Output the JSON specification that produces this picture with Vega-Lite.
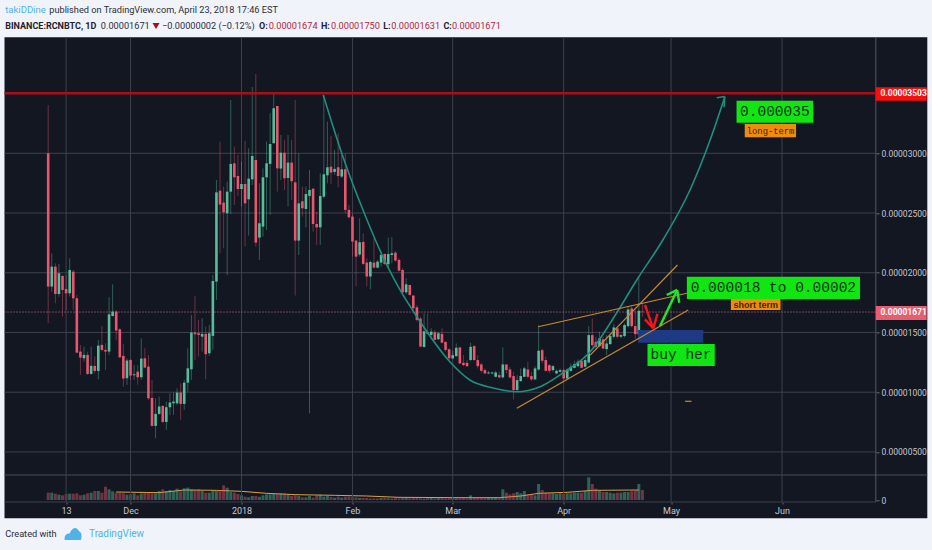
{"$schema":"https://vega.github.io/schema/vega-lite/v6.json","autosize":{"type":"none"},"width":922.8,"height":481,"padding":{"left":4.5,"top":37.3,"right":4.7,"bottom":31.7},"background":"#f0f3fa","view":{"fill":"#131722","stroke":null},"config":{"scale":{"continuousPadding":0}},
"datasets":{"candles":[
{"d":"2017-11-08","o":3.0e-5,"h":3.404e-5,"l":1.577e-5,"c":1.884e-5,"v":22,"s":"down"},
{"d":"2017-11-09","o":1.884e-5,"h":2.163e-5,"l":1.842e-5,"c":2.051e-5,"v":22,"s":"up"},
{"d":"2017-11-10","o":2.051e-5,"h":2.079e-5,"l":1.744e-5,"c":1.822e-5,"v":19,"s":"down"},
{"d":"2017-11-11","o":1.822e-5,"h":2.074e-5,"l":1.8e-5,"c":1.996e-5,"v":16,"s":"up"},
{"d":"2017-11-12","o":1.973e-5,"h":1.982e-5,"l":1.633e-5,"c":1.856e-5,"v":14,"s":"down"},
{"d":"2017-11-13","o":1.864e-5,"h":1.982e-5,"l":1.689e-5,"c":1.828e-5,"v":18,"s":"down"},
{"d":"2017-11-14","o":1.828e-5,"h":2.121e-5,"l":1.8e-5,"c":2.023e-5,"v":19,"s":"up"},
{"d":"2017-11-15","o":2.009e-5,"h":2.023e-5,"l":1.689e-5,"c":1.786e-5,"v":19,"s":"down"},
{"d":"2017-11-16","o":1.786e-5,"h":1.814e-5,"l":1.326e-5,"c":1.331e-5,"v":20,"s":"down"},
{"d":"2017-11-17","o":1.34e-5,"h":1.396e-5,"l":1.145e-5,"c":1.29e-5,"v":14,"s":"down"},
{"d":"2017-11-18","o":1.284e-5,"h":1.382e-5,"l":1.256e-5,"c":1.312e-5,"v":16,"s":"up"},
{"d":"2017-11-19","o":1.312e-5,"h":1.34e-5,"l":1.145e-5,"c":1.153e-5,"v":20,"s":"down"},
{"d":"2017-11-20","o":1.153e-5,"h":1.382e-5,"l":1.145e-5,"c":1.22e-5,"v":22,"s":"up"},
{"d":"2017-11-21","o":1.22e-5,"h":1.298e-5,"l":1.159e-5,"c":1.178e-5,"v":27,"s":"down"},
{"d":"2017-11-22","o":1.178e-5,"h":1.438e-5,"l":1.108e-5,"c":1.39e-5,"v":27,"s":"up"},
{"d":"2017-11-23","o":1.396e-5,"h":1.555e-5,"l":1.34e-5,"c":1.354e-5,"v":22,"s":"down"},
{"d":"2017-11-24","o":1.354e-5,"h":1.41e-5,"l":1.186e-5,"c":1.34e-5,"v":40,"s":"down"},
{"d":"2017-11-25","o":1.34e-5,"h":1.795e-5,"l":1.312e-5,"c":1.652e-5,"v":32,"s":"up"},
{"d":"2017-11-26","o":1.638e-5,"h":1.903e-5,"l":1.633e-5,"c":1.675e-5,"v":26,"s":"up"},
{"d":"2017-11-27","o":1.675e-5,"h":1.689e-5,"l":1.438e-5,"c":1.516e-5,"v":22,"s":"down"},
{"d":"2017-11-28","o":1.527e-5,"h":1.535e-5,"l":1.284e-5,"c":1.292e-5,"v":22,"s":"down"},
{"d":"2017-11-29","o":1.304e-5,"h":1.404e-5,"l":1.047e-5,"c":1.114e-5,"v":20,"s":"down"},
{"d":"2017-11-30","o":1.117e-5,"h":1.284e-5,"l":1.061e-5,"c":1.265e-5,"v":16,"s":"up"},
{"d":"2017-12-01","o":1.27e-5,"h":1.276e-5,"l":1.103e-5,"c":1.139e-5,"v":17,"s":"down"},
{"d":"2017-12-02","o":1.142e-5,"h":1.228e-5,"l":1.103e-5,"c":1.15e-5,"v":20,"s":"up"},
{"d":"2017-12-03","o":1.172e-5,"h":1.228e-5,"l":1.061e-5,"c":1.125e-5,"v":14,"s":"down"},
{"d":"2017-12-04","o":1.125e-5,"h":1.451e-5,"l":1.103e-5,"c":1.281e-5,"v":20,"s":"up"},
{"d":"2017-12-05","o":1.284e-5,"h":1.368e-5,"l":1.2e-5,"c":1.206e-5,"v":22,"s":"down"},
{"d":"2017-12-06","o":1.214e-5,"h":1.312e-5,"l":0.935e-5,"c":0.949e-5,"v":22,"s":"down"},
{"d":"2017-12-07","o":0.952e-5,"h":1.103e-5,"l":0.712e-5,"c":0.718e-5,"v":20,"s":"down"},
{"d":"2017-12-08","o":0.718e-5,"h":0.949e-5,"l":0.614e-5,"c":0.818e-5,"v":20,"s":"up"},
{"d":"2017-12-09","o":0.818e-5,"h":0.963e-5,"l":0.81e-5,"c":0.88e-5,"v":27,"s":"up"},
{"d":"2017-12-10","o":0.885e-5,"h":0.893e-5,"l":0.74e-5,"c":0.751e-5,"v":32,"s":"down"},
{"d":"2017-12-11","o":0.751e-5,"h":0.921e-5,"l":0.684e-5,"c":0.874e-5,"v":27,"s":"up"},
{"d":"2017-12-12","o":0.874e-5,"h":0.991e-5,"l":0.81e-5,"c":0.913e-5,"v":30,"s":"up"},
{"d":"2017-12-13","o":0.907e-5,"h":0.997e-5,"l":0.81e-5,"c":0.921e-5,"v":27,"s":"up"},
{"d":"2017-12-14","o":0.907e-5,"h":1.033e-5,"l":0.893e-5,"c":0.997e-5,"v":34,"s":"up"},
{"d":"2017-12-15","o":0.997e-5,"h":1.075e-5,"l":0.768e-5,"c":0.902e-5,"v":26,"s":"down"},
{"d":"2017-12-16","o":0.902e-5,"h":1.103e-5,"l":0.852e-5,"c":1.08e-5,"v":35,"s":"up"},
{"d":"2017-12-17","o":1.08e-5,"h":1.368e-5,"l":1.005e-5,"c":1.2e-5,"v":37,"s":"up"},
{"d":"2017-12-18","o":1.192e-5,"h":1.647e-5,"l":1.103e-5,"c":1.499e-5,"v":32,"s":"up"},
{"d":"2017-12-19","o":1.499e-5,"h":1.806e-5,"l":1.27e-5,"c":1.485e-5,"v":30,"s":"down"},
{"d":"2017-12-20","o":1.493e-5,"h":1.605e-5,"l":1.298e-5,"c":1.479e-5,"v":32,"s":"down"},
{"d":"2017-12-21","o":1.465e-5,"h":1.619e-5,"l":1.34e-5,"c":1.488e-5,"v":27,"s":"up"},
{"d":"2017-12-22","o":1.488e-5,"h":1.549e-5,"l":1.108e-5,"c":1.318e-5,"v":22,"s":"down"},
{"d":"2017-12-23","o":1.326e-5,"h":1.563e-5,"l":1.306e-5,"c":1.493e-5,"v":22,"s":"up"},
{"d":"2017-12-24","o":1.471e-5,"h":1.982e-5,"l":1.354e-5,"c":1.931e-5,"v":27,"s":"up"},
{"d":"2017-12-25","o":1.926e-5,"h":2.777e-5,"l":1.772e-5,"c":2.673e-5,"v":27,"s":"up"},
{"d":"2017-12-26","o":2.687e-5,"h":3.098e-5,"l":2.163e-5,"c":2.57e-5,"v":30,"s":"down"},
{"d":"2017-12-27","o":2.587e-5,"h":2.721e-5,"l":2.205e-5,"c":2.506e-5,"v":44,"s":"down"},
{"d":"2017-12-28","o":2.498e-5,"h":2.763e-5,"l":1.982e-5,"c":2.679e-5,"v":37,"s":"up"},
{"d":"2017-12-29","o":2.679e-5,"h":3.446e-5,"l":2.492e-5,"c":2.911e-5,"v":24,"s":"up"},
{"d":"2017-12-30","o":2.916e-5,"h":3.056e-5,"l":2.567e-5,"c":2.799e-5,"v":22,"s":"down"},
{"d":"2017-12-31","o":2.81e-5,"h":2.986e-5,"l":2.643e-5,"c":2.701e-5,"v":18,"s":"down"},
{"d":"2018-01-01","o":2.701e-5,"h":2.93e-5,"l":2.554e-5,"c":2.743e-5,"v":14,"s":"up"},
{"d":"2018-01-02","o":2.743e-5,"h":3.106e-5,"l":2.219e-5,"c":2.581e-5,"v":10,"s":"down"},
{"d":"2018-01-03","o":2.615e-5,"h":3.042e-5,"l":2.311e-5,"c":2.788e-5,"v":8,"s":"up"},
{"d":"2018-01-04","o":2.782e-5,"h":3.555e-5,"l":2.735e-5,"c":2.978e-5,"v":12,"s":"up"},
{"d":"2018-01-05","o":2.944e-5,"h":3.664e-5,"l":2.219e-5,"c":2.252e-5,"v":12,"s":"down"},
{"d":"2018-01-06","o":2.294e-5,"h":2.749e-5,"l":2.107e-5,"c":2.414e-5,"v":10,"s":"up"},
{"d":"2018-01-07","o":2.386e-5,"h":2.874e-5,"l":2.302e-5,"c":2.799e-5,"v":14,"s":"up"},
{"d":"2018-01-08","o":2.799e-5,"h":3.098e-5,"l":2.358e-5,"c":2.916e-5,"v":17,"s":"up"},
{"d":"2018-01-09","o":2.911e-5,"h":3.335e-5,"l":2.484e-5,"c":3.078e-5,"v":17,"s":"up"},
{"d":"2018-01-10","o":3.084e-5,"h":3.508e-5,"l":3.084e-5,"c":3.377e-5,"v":20,"s":"up"},
{"d":"2018-01-11","o":3.396e-5,"h":3.396e-5,"l":2.679e-5,"c":2.874e-5,"v":18,"s":"down"},
{"d":"2018-01-12","o":2.872e-5,"h":3.153e-5,"l":2.777e-5,"c":3.005e-5,"v":20,"s":"up"},
{"d":"2018-01-13","o":3.005e-5,"h":3.112e-5,"l":2.693e-5,"c":2.791e-5,"v":20,"s":"down"},
{"d":"2018-01-14","o":2.793e-5,"h":3.153e-5,"l":2.554e-5,"c":2.922e-5,"v":16,"s":"up"},
{"d":"2018-01-15","o":2.922e-5,"h":3.112e-5,"l":2.609e-5,"c":2.766e-5,"v":12,"s":"down"},
{"d":"2018-01-16","o":2.757e-5,"h":3.446e-5,"l":1.809e-5,"c":2.269e-5,"v":14,"s":"down"},
{"d":"2018-01-17","o":2.269e-5,"h":3.0e-5,"l":2.149e-5,"c":2.581e-5,"v":12,"s":"up"},
{"d":"2018-01-18","o":2.598e-5,"h":2.721e-5,"l":2.47e-5,"c":2.54e-5,"v":8,"s":"down"},
{"d":"2018-01-19","o":2.534e-5,"h":2.721e-5,"l":2.38e-5,"c":2.659e-5,"v":8,"s":"up"},
{"d":"2018-01-20","o":2.643e-5,"h":2.86e-5,"l":0.824e-5,"c":2.693e-5,"v":12,"s":"up"},
{"d":"2018-01-21","o":2.704e-5,"h":2.707e-5,"l":2.344e-5,"c":2.408e-5,"v":7,"s":"down"},
{"d":"2018-01-22","o":2.408e-5,"h":2.512e-5,"l":2.233e-5,"c":2.38e-5,"v":14,"s":"down"},
{"d":"2018-01-23","o":2.38e-5,"h":2.833e-5,"l":2.233e-5,"c":2.643e-5,"v":16,"s":"up"},
{"d":"2018-01-24","o":2.637e-5,"h":3.488e-5,"l":2.623e-5,"c":2.824e-5,"v":10,"s":"up"},
{"d":"2018-01-25","o":2.816e-5,"h":3.265e-5,"l":2.749e-5,"c":2.883e-5,"v":12,"s":"up"},
{"d":"2018-01-26","o":2.888e-5,"h":3.145e-5,"l":2.743e-5,"c":2.838e-5,"v":9,"s":"down"},
{"d":"2018-01-27","o":2.844e-5,"h":3.028e-5,"l":2.819e-5,"c":2.869e-5,"v":7,"s":"up"},
{"d":"2018-01-28","o":2.883e-5,"h":3.167e-5,"l":2.715e-5,"c":2.81e-5,"v":10,"s":"down"},
{"d":"2018-01-29","o":2.805e-5,"h":2.986e-5,"l":2.791e-5,"c":2.866e-5,"v":7,"s":"up"},
{"d":"2018-01-30","o":2.866e-5,"h":3.0e-5,"l":2.498e-5,"c":2.526e-5,"v":10,"s":"down"},
{"d":"2018-01-31","o":2.526e-5,"h":2.567e-5,"l":2.456e-5,"c":2.464e-5,"v":10,"s":"down"},
{"d":"2018-02-01","o":2.47e-5,"h":2.498e-5,"l":2.135e-5,"c":2.261e-5,"v":8,"s":"down"},
{"d":"2018-02-02","o":2.269e-5,"h":2.275e-5,"l":1.884e-5,"c":2.135e-5,"v":8,"s":"down"},
{"d":"2018-02-03","o":2.152e-5,"h":2.456e-5,"l":2.135e-5,"c":2.255e-5,"v":6,"s":"up"},
{"d":"2018-02-04","o":2.258e-5,"h":2.33e-5,"l":2.065e-5,"c":2.074e-5,"v":6,"s":"down"},
{"d":"2018-02-05","o":2.085e-5,"h":2.121e-5,"l":1.884e-5,"c":1.968e-5,"v":6,"s":"down"},
{"d":"2018-02-06","o":1.968e-5,"h":2.102e-5,"l":1.862e-5,"c":2.09e-5,"v":4,"s":"up"},
{"d":"2018-02-07","o":2.085e-5,"h":2.283e-5,"l":2.037e-5,"c":2.043e-5,"v":5,"s":"down"},
{"d":"2018-02-08","o":2.043e-5,"h":2.107e-5,"l":2.037e-5,"c":2.093e-5,"v":4,"s":"up"},
{"d":"2018-02-09","o":2.085e-5,"h":2.177e-5,"l":2.051e-5,"c":2.149e-5,"v":6,"s":"up"},
{"d":"2018-02-10","o":2.157e-5,"h":2.163e-5,"l":2.065e-5,"c":2.074e-5,"v":7,"s":"down"},
{"d":"2018-02-11","o":2.071e-5,"h":2.294e-5,"l":2.037e-5,"c":2.157e-5,"v":5,"s":"up"},
{"d":"2018-02-12","o":2.149e-5,"h":2.297e-5,"l":2.079e-5,"c":2.163e-5,"v":4,"s":"up"},
{"d":"2018-02-13","o":2.168e-5,"h":2.182e-5,"l":2.093e-5,"c":2.102e-5,"v":6,"s":"down"},
{"d":"2018-02-14","o":2.107e-5,"h":2.121e-5,"l":2.009e-5,"c":2.018e-5,"v":5,"s":"down"},
{"d":"2018-02-15","o":2.023e-5,"h":2.037e-5,"l":1.828e-5,"c":1.836e-5,"v":7,"s":"down"},
{"d":"2018-02-16","o":1.836e-5,"h":1.954e-5,"l":1.822e-5,"c":1.903e-5,"v":6,"s":"up"},
{"d":"2018-02-17","o":1.898e-5,"h":1.898e-5,"l":1.806e-5,"c":1.814e-5,"v":5,"s":"down"},
{"d":"2018-02-18","o":1.809e-5,"h":1.814e-5,"l":1.689e-5,"c":1.703e-5,"v":7,"s":"down"},
{"d":"2018-02-19","o":1.711e-5,"h":1.73e-5,"l":1.591e-5,"c":1.605e-5,"v":6,"s":"down"},
{"d":"2018-02-20","o":1.616e-5,"h":1.633e-5,"l":1.376e-5,"c":1.382e-5,"v":5,"s":"down"},
{"d":"2018-02-21","o":1.379e-5,"h":1.661e-5,"l":1.373e-5,"c":1.51e-5,"v":4,"s":"up"},
{"d":"2018-02-22","o":1.502e-5,"h":1.661e-5,"l":1.479e-5,"c":1.488e-5,"v":6,"s":"down"},
{"d":"2018-02-23","o":1.479e-5,"h":1.535e-5,"l":1.438e-5,"c":1.507e-5,"v":7,"s":"up"},
{"d":"2018-02-24","o":1.502e-5,"h":1.521e-5,"l":1.432e-5,"c":1.438e-5,"v":5,"s":"down"},
{"d":"2018-02-25","o":1.443e-5,"h":1.507e-5,"l":1.438e-5,"c":1.493e-5,"v":6,"s":"up"},
{"d":"2018-02-26","o":1.488e-5,"h":1.535e-5,"l":1.41e-5,"c":1.415e-5,"v":6,"s":"down"},
{"d":"2018-02-27","o":1.421e-5,"h":1.424e-5,"l":1.34e-5,"c":1.354e-5,"v":5,"s":"down"},
{"d":"2018-02-28","o":1.359e-5,"h":1.368e-5,"l":1.27e-5,"c":1.284e-5,"v":7,"s":"down"},
{"d":"2018-03-01","o":1.283e-5,"h":1.347e-5,"l":1.274e-5,"c":1.31e-5,"v":6,"s":"up"},
{"d":"2018-03-02","o":1.302e-5,"h":1.408e-5,"l":1.296e-5,"c":1.372e-5,"v":5,"s":"up"},
{"d":"2018-03-03","o":1.375e-5,"h":1.38e-5,"l":1.235e-5,"c":1.241e-5,"v":7,"s":"down"},
{"d":"2018-03-04","o":1.246e-5,"h":1.31e-5,"l":1.218e-5,"c":1.227e-5,"v":6,"s":"down"},
{"d":"2018-03-05","o":1.246e-5,"h":1.269e-5,"l":1.213e-5,"c":1.218e-5,"v":5,"s":"down"},
{"d":"2018-03-06","o":1.269e-5,"h":1.414e-5,"l":1.263e-5,"c":1.38e-5,"v":14,"s":"up"},
{"d":"2018-03-07","o":1.386e-5,"h":1.394e-5,"l":1.263e-5,"c":1.269e-5,"v":8,"s":"down"},
{"d":"2018-03-08","o":1.269e-5,"h":1.31e-5,"l":1.199e-5,"c":1.218e-5,"v":8,"s":"down"},
{"d":"2018-03-09","o":1.232e-5,"h":1.246e-5,"l":1.163e-5,"c":1.179e-5,"v":7,"s":"down"},
{"d":"2018-03-10","o":1.185e-5,"h":1.199e-5,"l":1.151e-5,"c":1.157e-5,"v":7,"s":"down"},
{"d":"2018-03-11","o":1.157e-5,"h":1.177e-5,"l":1.151e-5,"c":1.165e-5,"v":6,"s":"up"},
{"d":"2018-03-12","o":1.157e-5,"h":1.171e-5,"l":1.151e-5,"c":1.165e-5,"v":7,"s":"up"},
{"d":"2018-03-13","o":1.129e-5,"h":1.179e-5,"l":1.124e-5,"c":1.165e-5,"v":8,"s":"up"},
{"d":"2018-03-14","o":1.143e-5,"h":1.171e-5,"l":1.115e-5,"c":1.124e-5,"v":9,"s":"down"},
{"d":"2018-03-15","o":1.124e-5,"h":1.375e-5,"l":1.115e-5,"c":1.232e-5,"v":32,"s":"up"},
{"d":"2018-03-16","o":1.232e-5,"h":1.235e-5,"l":1.157e-5,"c":1.185e-5,"v":22,"s":"down"},
{"d":"2018-03-17","o":1.19e-5,"h":1.213e-5,"l":1.115e-5,"c":1.124e-5,"v":17,"s":"down"},
{"d":"2018-03-18","o":1.135e-5,"h":1.171e-5,"l":0.939e-5,"c":1.018e-5,"v":20,"s":"down"},
{"d":"2018-03-19","o":1.018e-5,"h":1.143e-5,"l":1.012e-5,"c":1.101e-5,"v":24,"s":"up"},
{"d":"2018-03-20","o":1.093e-5,"h":1.199e-5,"l":1.087e-5,"c":1.135e-5,"v":20,"s":"up"},
{"d":"2018-03-21","o":1.129e-5,"h":1.213e-5,"l":1.124e-5,"c":1.199e-5,"v":27,"s":"up"},
{"d":"2018-03-22","o":1.19e-5,"h":1.255e-5,"l":1.115e-5,"c":1.129e-5,"v":16,"s":"down"},
{"d":"2018-03-23","o":1.135e-5,"h":1.171e-5,"l":1.096e-5,"c":1.107e-5,"v":16,"s":"down"},
{"d":"2018-03-24","o":1.107e-5,"h":1.218e-5,"l":1.101e-5,"c":1.199e-5,"v":14,"s":"up"},
{"d":"2018-03-25","o":1.19e-5,"h":1.562e-5,"l":1.179e-5,"c":1.347e-5,"v":48,"s":"up"},
{"d":"2018-03-26","o":1.352e-5,"h":1.366e-5,"l":1.241e-5,"c":1.263e-5,"v":30,"s":"down"},
{"d":"2018-03-27","o":1.269e-5,"h":1.296e-5,"l":1.171e-5,"c":1.179e-5,"v":22,"s":"down"},
{"d":"2018-03-28","o":1.227e-5,"h":1.235e-5,"l":1.157e-5,"c":1.179e-5,"v":20,"s":"down"},
{"d":"2018-03-29","o":1.185e-5,"h":1.227e-5,"l":1.171e-5,"c":1.218e-5,"v":20,"s":"up"},
{"d":"2018-03-30","o":1.157e-5,"h":1.19e-5,"l":1.149e-5,"c":1.179e-5,"v":18,"s":"up"},
{"d":"2018-03-31","o":1.171e-5,"h":1.199e-5,"l":1.163e-5,"c":1.185e-5,"v":20,"s":"up"},
{"d":"2018-04-01","o":1.185e-5,"h":1.199e-5,"l":1.107e-5,"c":1.115e-5,"v":18,"s":"down"},
{"d":"2018-04-02","o":1.115e-5,"h":1.199e-5,"l":1.107e-5,"c":1.19e-5,"v":20,"s":"up"},
{"d":"2018-04-03","o":1.179e-5,"h":1.241e-5,"l":1.171e-5,"c":1.213e-5,"v":20,"s":"up"},
{"d":"2018-04-04","o":1.204e-5,"h":1.263e-5,"l":1.199e-5,"c":1.235e-5,"v":22,"s":"up"},
{"d":"2018-04-05","o":1.218e-5,"h":1.274e-5,"l":1.207e-5,"c":1.255e-5,"v":22,"s":"up"},
{"d":"2018-04-06","o":1.263e-5,"h":1.274e-5,"l":1.199e-5,"c":1.204e-5,"v":22,"s":"down"},
{"d":"2018-04-07","o":1.213e-5,"h":1.31e-5,"l":1.207e-5,"c":1.269e-5,"v":27,"s":"up"},
{"d":"2018-04-08","o":1.249e-5,"h":1.553e-5,"l":1.241e-5,"c":1.478e-5,"v":68,"s":"up"},
{"d":"2018-04-09","o":1.478e-5,"h":1.617e-5,"l":1.38e-5,"c":1.394e-5,"v":48,"s":"down"},
{"d":"2018-04-10","o":1.422e-5,"h":1.464e-5,"l":1.366e-5,"c":1.38e-5,"v":34,"s":"down"},
{"d":"2018-04-11","o":1.386e-5,"h":1.506e-5,"l":1.375e-5,"c":1.45e-5,"v":27,"s":"up"},
{"d":"2018-04-12","o":1.442e-5,"h":1.464e-5,"l":1.358e-5,"c":1.366e-5,"v":24,"s":"down"},
{"d":"2018-04-13","o":1.361e-5,"h":1.478e-5,"l":1.31e-5,"c":1.408e-5,"v":24,"s":"up"},
{"d":"2018-04-14","o":1.403e-5,"h":1.492e-5,"l":1.394e-5,"c":1.47e-5,"v":22,"s":"up"},
{"d":"2018-04-15","o":1.464e-5,"h":1.57e-5,"l":1.45e-5,"c":1.542e-5,"v":20,"s":"up"},
{"d":"2018-04-16","o":1.534e-5,"h":1.542e-5,"l":1.45e-5,"c":1.464e-5,"v":22,"s":"down"},
{"d":"2018-04-17","o":1.464e-5,"h":1.492e-5,"l":1.45e-5,"c":1.478e-5,"v":22,"s":"up"},
{"d":"2018-04-18","o":1.47e-5,"h":1.576e-5,"l":1.458e-5,"c":1.562e-5,"v":24,"s":"up"},
{"d":"2018-04-19","o":1.553e-5,"h":1.715e-5,"l":1.542e-5,"c":1.693e-5,"v":24,"s":"up"},
{"d":"2018-04-20","o":1.701e-5,"h":1.729e-5,"l":1.542e-5,"c":1.553e-5,"v":26,"s":"down"},
{"d":"2018-04-21","o":1.553e-5,"h":1.687e-5,"l":1.45e-5,"c":1.486e-5,"v":28,"s":"down"},
{"d":"2018-04-22","o":1.483e-5,"h":1.966e-5,"l":1.45e-5,"c":1.682e-5,"v":48,"s":"up"},
{"d":"2018-04-23","o":1.674e-5,"h":1.75e-5,"l":1.631e-5,"c":1.671e-5,"v":30,"s":"down"}
]},
"layer":[
{"layer":[
{"data":{"values":[{"d":"2017-11-27","m":24},{"d":"2017-12-09","m":22},{"d":"2017-12-16","m":30},{"d":"2017-12-25","m":29},{"d":"2018-01-01","m":26},{"d":"2018-01-08","m":20},{"d":"2018-01-16","m":16},{"d":"2018-01-27","m":14},{"d":"2018-02-05","m":12},{"d":"2018-02-14","m":8},{"d":"2018-03-03","m":7},{"d":"2018-03-14","m":7},{"d":"2018-03-20","m":12},{"d":"2018-03-25","m":20},{"d":"2018-04-02","m":23},{"d":"2018-04-09","m":29},{"d":"2018-04-22","m":30}]},
"mark":{"type":"line","color":"#e0a03c","strokeWidth":1},
"encoding":{"x":{"field":"d","type":"temporal","title":null,"scale":{"type":"utc","nice":false,"domain":[{"year":2017,"month":"oct","date":26,"hours":19,"utc":true},{"year":2018,"month":"jul","date":11,"hours":14,"utc":true}]}},"y":{"field":"m","type":"quantitative","title":null,"scale":{"domain":[-54.9,1388.1],"nice":false,"zero":false},"axis":{"orient":"right","offset":-51.3,"values":[0],"labelExpr":"'0'","labelFont":"Roboto","labelFontSize":8.5,"labelColor":"#c4c8d0","tickColor":"#6a6f7c","tickSize":3,"domain":false,"grid":false,"labelPadding":2,"title":null}}}},
{"data":{"name":"candles"},"mark":{"type":"bar","size":3,"opacity":0.45},
"encoding":{"x":{"field":"d","type":"temporal","title":null},"y":{"field":"v","type":"quantitative","stack":null,"scale":{"domain":[-54.9,1388.1],"nice":false,"zero":false},"title":null},"color":{"field":"s","type":"nominal","legend":null,"scale":{"domain":["up","down"],"range":["#55bf9d","#e9566e"]}}}}
]},
{"layer":[
{"data":{"values":[{"p":0.5e-5},{"p":1.0e-5},{"p":1.5e-5},{"p":2.0e-5},{"p":2.5e-5},{"p":3.0e-5},{"p":0.081e-5}]},
"mark":{"type":"rule","color":"#3c404d","strokeWidth":1},
"encoding":{"x":{"datum":{"year":2017,"month":"oct","date":26,"hours":19,"utc":true},"type":"temporal","title":null},"x2":{"datum":{"year":2018,"month":"jun","date":27,"hours":5,"utc":true}},"y":{"field":"p","type":"quantitative","title":null,"scale":{"domain":[-0.0557e-5,3.971e-5],"nice":false,"zero":false},"axis":{"orient":"right","offset":-51.3,"values":[0.5e-5,1.0e-5,1.5e-5,2.0e-5,2.5e-5,3.0e-5],"format":".8f","labelFont":"Roboto","labelFontSize":8.5,"labelColor":"#c4c8d0","tickColor":"#6a6f7c","tickSize":3,"domain":false,"grid":false,"labelPadding":2,"title":null}}}},
{"data":{"values":[{"p":0.307e-5}]},"mark":{"type":"rule","color":"#4a4e5a","strokeWidth":1},
"encoding":{"x":{"datum":{"year":2017,"month":"oct","date":26,"hours":19,"utc":true},"type":"temporal","title":null},"x2":{"datum":{"year":2018,"month":"jul","date":11,"hours":14,"utc":true}},"y":{"field":"p","type":"quantitative","title":null}}},
{"data":{"values":[{"d":"2017-11-13"},{"d":"2017-12-01"},{"d":"2018-01-01"},{"d":"2018-02-01"},{"d":"2018-03-01"},{"d":"2018-04-01"},{"d":"2018-05-01"},{"d":"2018-06-01"}]},
"mark":{"type":"rule","color":"#3c404d","strokeWidth":1},
"encoding":{"x":{"field":"d","type":"temporal","title":null,"axis":{"orient":"bottom","offset":-16.3,"values":[{"year":2017,"month":"nov","date":13,"utc":true},{"year":2017,"month":"dec","date":1,"utc":true},{"year":2018,"month":"jan","date":1,"utc":true},{"year":2018,"month":"feb","date":1,"utc":true},{"year":2018,"month":"mar","date":1,"utc":true},{"year":2018,"month":"apr","date":1,"utc":true},{"year":2018,"month":"may","date":1,"utc":true},{"year":2018,"month":"jun","date":1,"utc":true}],"labelExpr":"utcmonth(datum.value)==10?'13':utcmonth(datum.value)==0?'2018':utcFormat(datum.value,'%b')","labelFont":"Roboto","labelFontSize":9,"labelColor":"#c4c8d0","tickColor":"#6a6f7c","tickSize":2,"domain":false,"grid":false,"labelPadding":2,"labelFlush":false,"labelOverlap":false,"title":null}},"y":{"datum":3.971e-5,"type":"quantitative","title":null},"y2":{"datum":0.081e-5}}},
{"data":{"values":[{"d":"2018-06-27T05:00:00Z"}]},"mark":{"type":"rule","color":"#555a66","strokeWidth":1},
"encoding":{"x":{"field":"d","type":"temporal","title":null},"y":{"datum":3.971e-5,"type":"quantitative","title":null},"y2":{"datum":0.081e-5}}},
{"data":{"name":"candles"},"mark":{"type":"rule","strokeWidth":1,"opacity":0.42},
"encoding":{"x":{"field":"d","type":"temporal","title":null},"y":{"field":"l","type":"quantitative","title":null},"y2":{"field":"h"},"color":{"field":"s","type":"nominal","legend":null}}},
{"data":{"name":"candles"},"mark":{"type":"bar","size":2.6},
"encoding":{"x":{"field":"d","type":"temporal","title":null},"y":{"field":"o","type":"quantitative","title":null},"y2":{"field":"c"},"color":{"field":"s","type":"nominal","legend":null}}},
{"data":{"values":[{"p":1.671e-5}]},"mark":{"type":"rule","color":"#d9748a","strokeWidth":1,"strokeDash":[1,2]},
"encoding":{"x":{"datum":{"year":2017,"month":"oct","date":26,"hours":19,"utc":true},"type":"temporal","title":null},"x2":{"datum":{"year":2018,"month":"jun","date":27,"hours":5,"utc":true}},"y":{"field":"p","type":"quantitative","title":null}}},
{"data":{"values":[{"p":3.503e-5}]},"mark":{"type":"rule","color":"#a80f18","strokeWidth":2.5},
"encoding":{"x":{"datum":{"year":2017,"month":"oct","date":26,"hours":19,"utc":true},"type":"temporal","title":null},"x2":{"datum":{"year":2018,"month":"jun","date":27,"hours":5,"utc":true}},"y":{"field":"p","type":"quantitative","title":null}}},
{"data":{"values":[{"a":"2018-04-21T19:00:00Z","b":"2018-05-10T00:00:00Z","t":1.521e-5,"u":1.414e-5}]},"mark":{"type":"rect","color":"#1f3a85"},
"encoding":{"x":{"field":"a","type":"temporal","title":null},"x2":{"field":"b"},"y":{"field":"t","type":"quantitative","title":null},"y2":{"field":"u"}}},
{"data":{"values":[
{"k":"c","d":"2018-01-23T20:00:00Z","p":3.488e-5},{"k":"c","d":"2018-01-29T00:00:00Z","p":3.0e-5},{"k":"c","d":"2018-02-04T12:00:00Z","p":2.483e-5},{"k":"c","d":"2018-02-10T14:00:00Z","p":2.065e-5},{"k":"c","d":"2018-02-14T07:00:00Z","p":1.856e-5},{"k":"c","d":"2018-02-19T22:00:00Z","p":1.59e-5},{"k":"c","d":"2018-02-28T05:00:00Z","p":1.255e-5},{"k":"c","d":"2018-03-05T19:00:00Z","p":1.102e-5},{"k":"c","d":"2018-03-12T07:00:00Z","p":1.035e-5},{"k":"c","d":"2018-03-18T22:00:00Z","p":1.004e-5},{"k":"c","d":"2018-03-25T10:00:00Z","p":1.046e-5},{"k":"c","d":"2018-03-31T19:00:00Z","p":1.161e-5},{"k":"c","d":"2018-04-08T10:00:00Z","p":1.339e-5},{"k":"c","d":"2018-04-15T19:00:00Z","p":1.663e-5},{"k":"c","d":"2018-04-21T10:00:00Z","p":1.939e-5},{"k":"c","d":"2018-04-28T17:00:00Z","p":2.274e-5},{"k":"c","d":"2018-05-06T07:00:00Z","p":2.693e-5},{"k":"c","d":"2018-05-11T22:00:00Z","p":3.111e-5},{"k":"c","d":"2018-05-16T00:00:00Z","p":3.471e-5}
]},"mark":{"type":"line","color":"#1f8f80","strokeWidth":1.6,"interpolate":"monotone"},
"encoding":{"x":{"field":"d","type":"temporal","title":null},"y":{"field":"p","type":"quantitative","title":null},"detail":{"field":"k"}}},
{"data":{"values":[
{"k":"h1","d":"2018-05-13T19:00:00Z","p":3.465e-5},{"k":"h1","d":"2018-05-16T00:00:00Z","p":3.475e-5},{"k":"h2","d":"2018-05-15T19:00:00Z","p":3.385e-5},{"k":"h2","d":"2018-05-16T00:00:00Z","p":3.475e-5}
]},"mark":{"type":"line","color":"#1f8f80","strokeWidth":1.6},
"encoding":{"x":{"field":"d","type":"temporal","title":null},"y":{"field":"p","type":"quantitative","title":null},"detail":{"field":"k"}}},
{"data":{"values":[
{"k":"a","d":"2018-03-18T22:00:00Z","p":0.865e-5},{"k":"a","d":"2018-05-05T19:00:00Z","p":1.688e-5},
{"k":"b","d":"2018-04-08T10:00:00Z","p":1.311e-5},{"k":"b","d":"2018-05-02T19:00:00Z","p":2.065e-5},
{"k":"e","d":"2018-03-24T22:00:00Z","p":1.548e-5},{"k":"e","d":"2018-05-05T10:00:00Z","p":1.828e-5},
{"k":"f","d":"2018-05-04T22:00:00Z","p":0.924e-5},{"k":"f","d":"2018-05-06T17:00:00Z","p":0.924e-5}
]},"mark":{"type":"line","color":"#c98a30","strokeWidth":1.2},
"encoding":{"x":{"field":"d","type":"temporal","title":null},"y":{"field":"p","type":"quantitative","title":null},"detail":{"field":"k"}}},
{"data":{"values":[
{"k":"s","d":"2018-04-27T22:00:00Z","p":1.554e-5},{"k":"s","d":"2018-05-02T17:00:00Z","p":1.856e-5},
{"k":"l","d":"2018-04-29T19:00:00Z","p":1.814e-5},{"k":"l","d":"2018-05-02T17:00:00Z","p":1.856e-5},
{"k":"r","d":"2018-05-03T07:00:00Z","p":1.749e-5},{"k":"r","d":"2018-05-02T17:00:00Z","p":1.856e-5}
]},"mark":{"type":"line","color":"#22e822","strokeWidth":2.4},
"encoding":{"x":{"field":"d","type":"temporal","title":null},"y":{"field":"p","type":"quantitative","title":null},"detail":{"field":"k"}}},
{"data":{"values":[
{"k":"s","d":"2018-04-23T17:00:00Z","p":1.73e-5},{"k":"s","d":"2018-04-26T00:00:00Z","p":1.535e-5},
{"k":"l","d":"2018-04-23T17:00:00Z","p":1.61e-5},{"k":"l","d":"2018-04-26T00:00:00Z","p":1.535e-5},
{"k":"r","d":"2018-04-27T05:00:00Z","p":1.655e-5},{"k":"r","d":"2018-04-26T00:00:00Z","p":1.535e-5}
]},"mark":{"type":"line","color":"#f01818","strokeWidth":2.4},
"encoding":{"x":{"field":"d","type":"temporal","title":null},"y":{"field":"p","type":"quantitative","title":null},"detail":{"field":"k"}}},
{"data":{"values":[
{"a":"2018-05-19T07:00:00Z","b":"2018-06-09T17:00:00Z","t":3.44e-5,"u":3.256e-5},
{"a":"2018-05-05T10:00:00Z","b":"2018-06-22T19:00:00Z","t":1.967e-5,"u":1.78e-5},
{"a":"2018-04-24T10:00:00Z","b":"2018-05-13T05:00:00Z","t":1.403e-5,"u":1.219e-5}
]},"mark":{"type":"rect","color":"#12e612"},
"encoding":{"x":{"field":"a","type":"temporal","title":null},"x2":{"field":"b"},"y":{"field":"t","type":"quantitative","title":null},"y2":{"field":"u"}}},
{"data":{"values":[
{"a":"2018-05-21T14:00:00Z","b":"2018-06-04T22:00:00Z","t":3.245e-5,"u":3.134e-5},
{"a":"2018-05-17T17:00:00Z","b":"2018-05-31T14:00:00Z","t":1.78e-5,"u":1.688e-5}
]},"mark":{"type":"rect","color":"#ee8c10"},
"encoding":{"x":{"field":"a","type":"temporal","title":null},"x2":{"field":"b"},"y":{"field":"t","type":"quantitative","title":null},"y2":{"field":"u"}}},
{"data":{"values":[
{"d":"2018-05-30T00:00:00Z","p":3.348e-5,"t":"0.000035"},
{"d":"2018-05-29T14:00:00Z","p":1.873e-5,"t":"0.000018 to 0.00002"},
{"d":"2018-05-03T19:00:00Z","p":1.311e-5,"t":"buy her"}
]},"mark":{"type":"text","font":"Liberation Mono","fontSize":14.5,"color":"#0b3018","align":"center","baseline":"middle"},
"encoding":{"x":{"field":"d","type":"temporal","title":null},"y":{"field":"p","type":"quantitative","title":null},"text":{"field":"t"}}},
{"data":{"values":[{"d":"2018-05-28T19:00:00Z","p":3.19e-5,"t":"long-term"}]},"mark":{"type":"text","font":"Liberation Mono","fontSize":8.8,"color":"#3a2400","align":"center","baseline":"middle"},
"encoding":{"x":{"field":"d","type":"temporal","title":null},"y":{"field":"p","type":"quantitative","title":null},"text":{"field":"t"}}},
{"data":{"values":[{"d":"2018-05-24T16:00:00Z","p":1.734e-5,"t":"short term"}]},"mark":{"type":"text","font":"Liberation Sans","fontWeight":"bold","fontSize":9,"color":"#3a2400","align":"center","baseline":"middle"},
"encoding":{"x":{"field":"d","type":"temporal","title":null},"y":{"field":"p","type":"quantitative","title":null},"text":{"field":"t"}}},
{"data":{"values":[{"a":"2018-06-27T05:00:00Z","b":"2018-07-11T10:00:00Z","t":3.553e-5,"u":3.44e-5}]},"mark":{"type":"rect","color":"#f51010"},
"encoding":{"x":{"field":"a","type":"temporal","title":null},"x2":{"field":"b"},"y":{"field":"t","type":"quantitative","title":null},"y2":{"field":"u"}}},
{"data":{"values":[{"a":"2018-06-27T05:00:00Z","b":"2018-07-11T10:00:00Z","t":1.722e-5,"u":1.605e-5}]},"mark":{"type":"rect","color":"#e85d70"},
"encoding":{"x":{"field":"a","type":"temporal","title":null},"x2":{"field":"b"},"y":{"field":"t","type":"quantitative","title":null},"y2":{"field":"u"}}},
{"data":{"values":[{"d":"2018-06-28T12:00:00Z","p":3.503e-5,"t":"0.00003503"},{"d":"2018-06-28T12:00:00Z","p":1.671e-5,"t":"0.00001671"}]},"mark":{"type":"text","font":"Roboto","fontSize":8.5,"fontWeight":"bold","color":"#ffffff","align":"left","baseline":"middle"},
"encoding":{"x":{"field":"d","type":"temporal","title":null},"y":{"field":"p","type":"quantitative","title":null},"text":{"field":"t"}}},
{"data":{"values":[{"d":"2017-10-27T00:00:00Z","p":4.2e-5,"t":"takiDDine"}]},"mark":{"type":"text","font":"Roboto","fontSize":9.5,"color":"#4fb3e6","align":"left","baseline":"middle"},
"encoding":{"x":{"field":"d","type":"temporal","title":null},"y":{"field":"p","type":"quantitative","title":null},"text":{"field":"t"}}},
{"data":{"values":[{"d":"2017-11-08T07:00:00Z","p":4.2e-5,"t":"published on TradingView.com, April 23, 2018 17:46 EST"},{"d":"2017-11-22T17:00:00Z","p":4.066e-5,"t":"0.00001671"},{"d":"2017-12-09T19:00:00Z","p":4.066e-5,"t":"−0.00000002 (−0.12%)"},{"d":"2017-10-27T00:00:00Z","p":-0.187e-5,"t":"Created with"}]},"mark":{"type":"text","font":"Roboto","fontSize":9.2,"color":"#2a2e39","align":"left","baseline":"middle"},
"encoding":{"x":{"field":"d","type":"temporal","title":null},"y":{"field":"p","type":"quantitative","title":null},"text":{"field":"t"}}},
{"data":{"values":[{"d":"2017-10-27T00:00:00Z","p":4.066e-5,"t":"BINANCE:RCNBTC, 1D"},{"d":"2018-01-05T22:00:00Z","p":4.066e-5,"t":"O:"},{"d":"2018-01-23T05:00:00Z","p":4.066e-5,"t":"H:"},{"d":"2018-02-09T14:00:00Z","p":4.066e-5,"t":"L:"},{"d":"2018-02-26T10:00:00Z","p":4.066e-5,"t":"C:"}]},"mark":{"type":"text","font":"Roboto","fontSize":9,"fontWeight":"bold","color":"#1e222d","align":"left","baseline":"middle"},
"encoding":{"x":{"field":"d","type":"temporal","title":null},"y":{"field":"p","type":"quantitative","title":null},"text":{"field":"t"}}},
{"data":{"values":[{"d":"2018-01-08T14:00:00Z","p":4.066e-5,"t":"0.00001674"},{"d":"2018-01-26T00:00:00Z","p":4.066e-5,"t":"0.00001750"},{"d":"2018-02-11T20:00:00Z","p":4.066e-5,"t":"0.00001631"},{"d":"2018-02-28T19:00:00Z","p":4.066e-5,"t":"0.00001671"}]},"mark":{"type":"text","font":"Roboto","fontSize":9.2,"color":"#b0283c","align":"left","baseline":"middle"},
"encoding":{"x":{"field":"d","type":"temporal","title":null},"y":{"field":"p","type":"quantitative","title":null},"text":{"field":"t"}}},
{"data":{"values":[{"d":"2017-12-08T03:00:00Z","p":4.066e-5}]},"mark":{"type":"point","shape":"triangle-down","filled":true,"color":"#a80f18","size":50,"opacity":1},
"encoding":{"x":{"field":"d","type":"temporal","title":null},"y":{"field":"p","type":"quantitative","title":null}}},
{"data":{"values":[{"d":"2017-11-14T23:00:00Z","p":-0.183e-5}]},"mark":{"type":"point","shape":"M-1,0.75 C-1.05,0.2 -0.75,-0.05 -0.4,0 C-0.15,-0.7 0.45,-0.85 0.65,-0.3 C1,-0.2 1.1,0.35 0.9,0.75 Z","filled":true,"color":"#4fb3e6","size":289,"opacity":1},
"encoding":{"x":{"field":"d","type":"temporal","title":null},"y":{"field":"p","type":"quantitative","title":null}}},
{"data":{"values":[{"d":"2017-11-19T10:00:00Z","p":-0.187e-5,"t":"TradingView"}]},"mark":{"type":"text","font":"Roboto","fontSize":10,"color":"#4fb3e6","align":"left","baseline":"middle"},
"encoding":{"x":{"field":"d","type":"temporal","title":null},"y":{"field":"p","type":"quantitative","title":null},"text":{"field":"t"}}}
]}
],
"resolve":{"scale":{"y":"independent"},"axis":{"y":"independent"}}}
